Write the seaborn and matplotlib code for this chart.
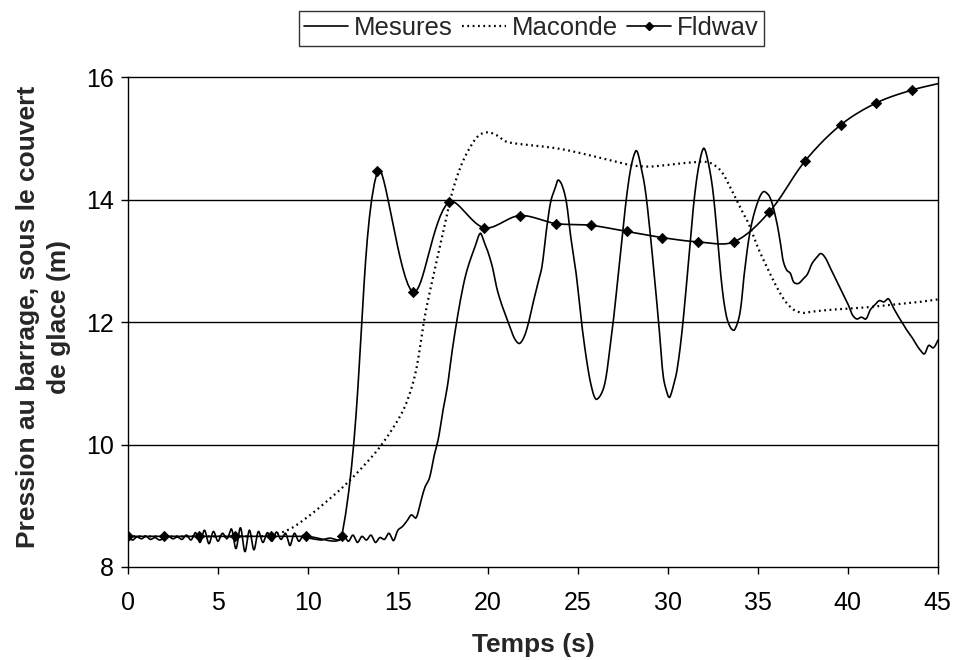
import numpy as np
import matplotlib
matplotlib.use("Agg")
import matplotlib.pyplot as plt
from matplotlib.lines import Line2D
import seaborn as sns

# ---------------- data ----------------
mes_t = [0, 0.25, 0.5, 0.75, 1.0, 1.25, 1.5, 1.75, 2.0, 2.25, 2.5, 2.75,
         3.0, 3.25, 3.5, 3.75, 4.0, 4.25, 4.5,
         4.75, 5.0, 5.25, 5.5, 5.75, 6.0, 6.25, 6.5, 6.75, 7.0,
         7.25, 7.5, 7.75, 8.0, 8.25, 8.5, 8.75, 9.0, 9.25, 9.5, 9.75,
         10.0, 10.25, 10.5, 10.75, 11.0, 11.25, 11.5, 11.75,
         12.0, 12.25, 12.5, 12.75, 13.0, 13.25, 13.5, 13.75, 14.0, 14.25, 14.5, 14.75,
         15.0, 15.25, 15.5, 15.75, 16.0, 16.25, 16.5, 16.75, 17.0, 17.25, 17.5, 17.75,
         18.0, 18.25, 18.5, 18.75, 19.0, 19.25, 19.5, 19.6, 19.8, 20.0, 20.25, 20.5,
         20.75, 21.0, 21.25, 21.5, 21.75, 22.0, 22.25, 22.5, 22.75, 23.0, 23.25, 23.5,
         23.75, 23.9, 24.1, 24.35, 24.6, 24.9, 25.2, 25.5, 25.75, 26.0, 26.25, 26.5,
         26.75, 27.0, 27.25, 27.5, 27.75, 28.0, 28.25, 28.5, 28.75, 29.0, 29.25, 29.5,
         29.75, 30.0, 30.1, 30.3, 30.5, 30.75, 31.0, 31.25, 31.5, 31.75, 32.0, 32.25,
         32.5, 32.75, 33.0, 33.25, 33.5, 33.7, 34.0, 34.25, 34.55, 34.9, 35.3, 35.65,
         36.0, 36.25, 36.4, 36.6, 36.8, 37.0, 37.25, 37.5, 37.75, 38.0, 38.25, 38.5,
         38.75, 39.0, 39.25, 39.5, 39.75, 40.0, 40.25, 40.5, 40.75, 41.0, 41.25, 41.5,
         41.75, 42.0, 42.25, 42.5, 42.75, 43.0, 43.25, 43.5, 43.75, 44.0, 44.25, 44.5,
         44.75, 45.0, 45.1]
mes_y = [8.50, 8.44, 8.49, 8.46, 8.50, 8.45, 8.48, 8.44, 8.47, 8.50, 8.46, 8.49,
         8.45, 8.52, 8.44, 8.56, 8.40, 8.60, 8.38,
         8.58, 8.42, 8.55, 8.46, 8.62, 8.30, 8.64, 8.25, 8.60, 8.28,
         8.58, 8.40, 8.56, 8.42, 8.57, 8.45, 8.55, 8.35, 8.55, 8.42, 8.52,
         8.48, 8.46, 8.45, 8.44, 8.46, 8.47, 8.45, 8.44,
         8.50, 8.42, 8.52, 8.40, 8.50, 8.44, 8.52, 8.40, 8.48, 8.45, 8.55, 8.43,
         8.60, 8.66, 8.75, 8.85, 8.80, 9.05, 9.30, 9.45, 9.80, 10.10, 10.55, 10.95,
         11.50, 11.98, 12.40, 12.75, 13.00, 13.20, 13.42, 13.45, 13.30, 13.15, 12.90, 12.55,
         12.30, 12.10, 11.90, 11.72, 11.65, 11.75, 11.98, 12.30, 12.60, 12.90, 13.50, 13.98,
         14.20, 14.32, 14.25, 13.98, 13.40, 12.80, 12.00, 11.35, 10.95, 10.74, 10.80, 11.00,
         11.50, 12.10, 12.80, 13.50, 14.15, 14.60, 14.80, 14.55, 14.15, 13.50, 12.75, 11.95,
         11.10, 10.80, 10.77, 10.95, 11.20, 11.75, 12.50, 13.35, 14.10, 14.60, 14.84, 14.60,
         14.15, 13.40, 12.60, 12.10, 11.90, 11.87, 12.14, 12.80, 13.45, 13.88, 14.13, 14.05,
         13.70, 13.30, 13.01, 12.85, 12.80, 12.65, 12.63, 12.70, 12.78, 12.95, 13.05, 13.12,
         13.05, 12.90, 12.75, 12.60, 12.45, 12.30, 12.12, 12.05, 12.08, 12.05, 12.20, 12.28,
         12.35, 12.33, 12.38, 12.25, 12.12, 12.00, 11.88, 11.78, 11.66, 11.55, 11.48, 11.62,
         11.58, 11.70, 11.78]

mac_t = [0, 7, 8, 9, 10, 11, 12, 13, 14, 15, 15.5, 16, 16.5, 17, 17.5, 18, 18.5, 19,
         19.5, 20, 20.5, 21, 22, 23, 24, 25, 26, 27, 28, 29, 30, 31, 32, 32.5, 33,
         33.5, 34, 34.5, 35, 35.5, 36, 36.5, 37, 37.5, 38, 39, 40, 41, 42, 43, 44, 45]
mac_y = [8.50, 8.50, 8.52, 8.62, 8.82, 9.06, 9.32, 9.62, 9.96, 10.40, 10.70, 11.20,
         12.10, 12.80, 13.45, 14.10, 14.55, 14.85, 15.05, 15.10, 15.05, 14.95, 14.90,
         14.87, 14.83, 14.77, 14.70, 14.63, 14.56, 14.54, 14.57, 14.60, 14.62, 14.58,
         14.45, 14.18, 13.88, 13.60, 13.22, 12.90, 12.60, 12.35, 12.20, 12.15, 12.17,
         12.20, 12.22, 12.24, 12.27, 12.30, 12.33, 12.37]

fld_t = [0, 1.98, 3.96, 5.94, 7.92, 9.90, 11.88, 13.86, 15.84, 17.82, 19.80, 21.78,
         23.76, 25.74, 27.72, 29.70, 31.68, 33.66, 35.64, 37.62, 39.60, 41.58, 43.56, 45.54]
fld_y = [8.50, 8.50, 8.50, 8.50, 8.50, 8.50, 8.50, 14.47, 12.49, 13.96, 13.54, 13.74,
         13.61, 13.58, 13.48, 13.38, 13.31, 13.31, 13.80, 14.63, 15.22, 15.58, 15.79, 15.93]

series_labels = ["Mesures", "Maconde", "Fldwav"]
x_ticks = [0, 5, 10, 15, 20, 25, 30, 35, 40, 45]
y_ticks = [8, 10, 12, 14, 16]
x_label = "Temps (s)"
y_label = "Pression au barrage, sous le couvert\nde glace (m)"

# ---------------- figure ----------------
sns.set_style("white")
plt.rcParams["font.family"] = ["Liberation Sans", "DejaVu Sans"]

fig = plt.figure(figsize=(9.55, 6.6), dpi=100)
ax = fig.add_axes([0.134, 0.141, 0.848, 0.742])
ax.set_xlim(0, 45)
ax.set_ylim(8, 16)


def smooth_path(x, y, n=16):
    """Spreadsheet-style smoothed line: cubic Bezier through the points, control
    points computed in screen space and scaled by adjacent chord lengths."""
    P = ax.transData.transform(np.column_stack([x, y]).astype(float))
    m = len(P)
    out = []
    s = np.linspace(0, 1, n, endpoint=False)[:, None]
    for i in range(m - 1):
        p0 = P[i - 1] if i > 0 else P[i]
        p1, p2 = P[i], P[i + 1]
        p3 = P[i + 2] if i + 2 < m else P[i + 1]
        d01 = np.linalg.norm(p1 - p0)
        d12 = np.linalg.norm(p2 - p1)
        d23 = np.linalg.norm(p3 - p2)
        f1 = d12 / (d01 + d12) if d01 + d12 > 0 else 0.0
        f2 = d12 / (d12 + d23) if d12 + d23 > 0 else 0.0
        c1 = p1 + (p2 - p0) * f1 / 3.0
        c2 = p2 - (p3 - p1) * f2 / 3.0
        seg = ((1 - s) ** 3) * p1 + 3 * ((1 - s) ** 2) * s * c1 \
            + 3 * (1 - s) * s ** 2 * c2 + s ** 3 * p2
        out.append(seg)
    out.append(P[-1][None])
    c = ax.transData.inverted().transform(np.vstack(out))
    return c[:, 0], c[:, 1]


for yv in [10, 12, 14]:
    ax.axhline(yv, color="black", lw=1.0, zorder=1)

mx, my = smooth_path(mes_t, mes_y)
sns.lineplot(x=mx, y=my, ax=ax, color="black", lw=1.2, sort=False,
             estimator=None, zorder=3)
cx, cy = smooth_path(mac_t, mac_y)
sns.lineplot(x=cx, y=cy, ax=ax, color="black", lw=1.6, sort=False,
             estimator=None, linestyle=(0, (0.8, 1.6)), zorder=3)
sx, sy = smooth_path(fld_t, fld_y)
sns.lineplot(x=sx, y=sy, ax=ax, color="black", lw=1.2, sort=False,
             estimator=None, zorder=4)
sns.scatterplot(x=fld_t, y=fld_y, ax=ax, marker="D", s=28, color="black",
                edgecolor="black", linewidth=0.5, zorder=5)

ax.set_xlim(0, 45)
ax.set_ylim(8, 16)
ax.set_xticks(x_ticks)
ax.set_yticks(y_ticks)
ax.tick_params(axis="both", direction="out", length=5, width=1, color="black",
               labelsize=18, labelcolor="black", bottom=True, left=True)
ax.tick_params(axis="x", pad=12)
ax.tick_params(axis="y", pad=5)
for sp in ax.spines.values():
    sp.set_visible(True)
    sp.set_color("black")
    sp.set_linewidth(1.0)

ax.set_xlabel(x_label, fontsize=19, fontweight="bold", labelpad=13)
ax.set_ylabel(y_label, fontsize=19, fontweight="bold", labelpad=8,
              multialignment="center", linespacing=1.4)
ax.yaxis.set_label_coords(-0.07, 0.51)
ax.yaxis.label.set_horizontalalignment("center")

handles = [
    Line2D([], [], color="black", lw=1.2),
    Line2D([], [], color="black", lw=1.6, linestyle=(0, (0.8, 1.6))),
    Line2D([], [], color="black", lw=1.2, marker="D", markersize=4),
]
leg = fig.legend(handles, series_labels, loc="center", bbox_to_anchor=(0.5565, 0.957),
                 ncol=3, frameon=True, fancybox=False, edgecolor="black",
                 handlelength=1.7, columnspacing=0.35, handletextpad=0.25,
                 borderpad=0.2, borderaxespad=0, fontsize=18.5)
leg.get_frame().set_linewidth(1.0)

fig.savefig("out.png", dpi=100)
